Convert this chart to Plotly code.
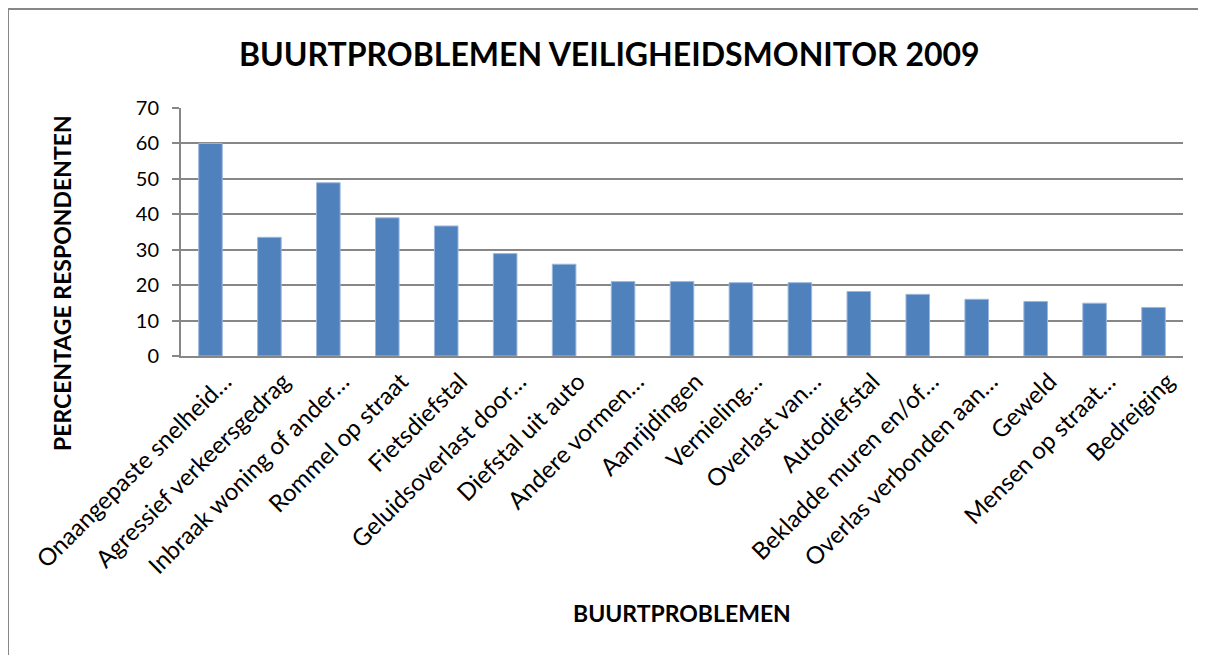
import plotly.graph_objects as go

categories = [
    "Onaangepaste snelheid…",
    "Agressief verkeersgedrag",
    "Inbraak woning of ander…",
    "Rommel op straat",
    "Fietsdiefstal",
    "Geluidsoverlast door…",
    "Diefstal uit auto",
    "Andere vormen…",
    "Aanrijdingen",
    "Vernieling…",
    "Overlast van…",
    "Autodiefstal",
    "Bekladde muren en/of…",
    "Overlas verbonden aan…",
    "Geweld",
    "Mensen op straat…",
    "Bedreiging",
]
values = [60.0, 33.5, 48.9, 39.0, 36.7, 28.9, 25.9, 21.0, 21.0, 20.7, 20.7, 18.2, 17.4, 16.0, 15.4, 14.9, 13.7]
y_ticks = [0, 10, 20, 30, 40, 50, 60, 70]

# The page body has an 8px margin; work in window pixels and convert.
OFF = 8
W, H = 1206 - OFF, 655 - OFF
PL, PR, PT, PB = 181, 1183, 108, 356  # plot area in window pixels
L, R, T, B = PL - OFF, W - (PR - OFF), PT - OFF, H - (PB - OFF)
pw, ph = PR - PL, PB - PT

def px(x):
    return (x - PL) / pw

def py(y):
    return (PB - y) / ph

FONT = "Lato, Calibri, Carlito, sans-serif"
GRID = "#878787"

fig = go.Figure(go.Bar(
    x=categories, y=values,
    marker=dict(color="#4F81BD", line=dict(color="#9DB7DB", width=1)),
    width=0.4,
))

fig.update_layout(
    width=W, height=H,
    margin=dict(l=L, r=R, t=T, b=B, autoexpand=False),
    paper_bgcolor="white", plot_bgcolor="white",
    showlegend=False,
    font=dict(family=FONT, color="black"),
    bargap=0.6,
)
fig.update_xaxes(
    tickangle=-45, tickfont=dict(size=24, family=FONT),
    ticklabelshift=14,
    showline=True, linecolor=GRID, linewidth=2,
    ticks="", showgrid=False,
)
fig.update_yaxes(
    range=[0, 70], tickvals=y_ticks, tickfont=dict(size=20, family=FONT),
    ticklabelstandoff=9,
    showline=True, linecolor=GRID, linewidth=2,
    gridcolor=GRID, gridwidth=2,
    ticks="outside", ticklen=7, tickcolor=GRID, tickwidth=2,
    zeroline=False,
)

fig.add_annotation(text="<b>BUURTPROBLEMEN VEILIGHEIDSMONITOR 2009</b>",
                   x=px(609), y=py(54), xref="paper", yref="paper",
                   showarrow=False, font=dict(size=32, family=FONT), xanchor="center", yanchor="middle")
fig.add_annotation(text="<b>PERCENTAGE RESPONDENTEN</b>",
                   x=px(62), y=py(283), xref="paper", yref="paper", textangle=-90,
                   showarrow=False, font=dict(size=23, family=FONT), xanchor="center", yanchor="middle")
fig.add_annotation(text="<b>BUURTPROBLEMEN</b>",
                   x=px(682), y=py(613), xref="paper", yref="paper",
                   showarrow=False, font=dict(size=23, family=FONT), xanchor="center", yanchor="middle")

# chart border (left and top visible)
fig.add_shape(type="line", xref="paper", yref="paper", x0=px(8), x1=px(8), y0=py(9), y1=py(700),
              line=dict(color=GRID, width=2))
fig.add_shape(type="line", xref="paper", yref="paper", x0=px(8), x1=px(1250), y0=py(9), y1=py(9),
              line=dict(color=GRID, width=2))

fig.write_html("out.html")
